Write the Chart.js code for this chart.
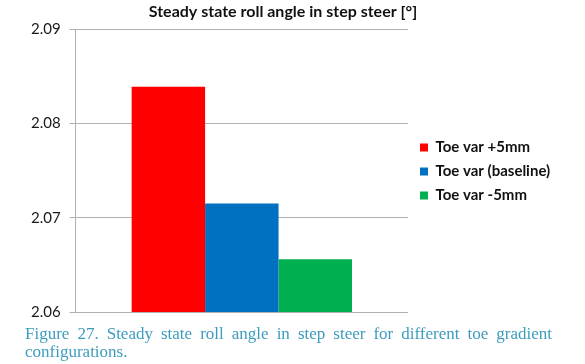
<!DOCTYPE html>
<html>
<head>
<meta charset="utf-8">
<script src="https://cdn.jsdelivr.net/npm/chart.js@4"></script>
<style>
  body { margin: 0; background: #fff; width: 585px; height: 364px; overflow: hidden; position: relative; }
  #wrap { position: absolute; left: 0; top: 0; width: 585px; height: 330px; }
  #caption {
    position: absolute;
    left: 25px;
    top: 325px;
    width: 527px;
    margin: 0;
    font-family: "Liberation Serif", serif;
    font-size: 17px;
    line-height: 18px;
    color: #3d9cbe;
    text-align: justify;
  }
</style>
</head>
<body>
<div id="wrap"><canvas id="chart"></canvas></div>
<p id="caption">Figure 27. Steady state roll angle in step steer for different toe gradient configurations.</p>
<script>
// data
const categories = [""];
const seriesNames = ["Toe var +5mm", "Toe var (baseline)", "Toe var -5mm"];
const seriesValues = [[2.0839], [2.0715], [2.0656]];
const seriesColors = ["#ff0000", "#0070c0", "#00b050"];
const yTicks = [2.06, 2.07, 2.08, 2.09];

const datasets = [];
for (let i = 0; i < seriesNames.length; i++) {
  datasets.push({
    label: seriesNames[i],
    data: seriesValues[i],
    backgroundColor: seriesColors[i],
    borderWidth: 0,
    barPercentage: 1,
    categoryPercentage: 0.663
  });
}

Chart.defaults.font.family = "Lato, 'Liberation Sans', sans-serif";

// legend sits in a fixed-width column on the right, like the Excel original
const legendColumn = {
  id: "legendColumn",
  beforeLayout(chart) {
    const lg = chart.legend;
    if (lg && !lg._wrapped) {
      const fit = lg.fit;
      lg.fit = function() {
        fit.call(this);
        this.width = 177;
      };
      lg._wrapped = true;
    }
  },
  afterLayout(chart) {
    const lg = chart.legend;
    lg.left += 3; lg.right += 3;
    lg.top += 6; lg.bottom += 6;
    const t = chart.titleBlock;
    const shift = 283 - (t.left + t.right) / 2;
    t.left += shift; t.right += shift;
  }
};

new Chart(document.getElementById("chart"), {
  type: "bar",
  data: { labels: categories, datasets: datasets },
  plugins: [legendColumn],
  options: {
    responsive: true,
    maintainAspectRatio: false,
    animation: false,
    layout: { padding: { left: 22, right: 0, top: 1, bottom: 0 } },
    scales: {
      x: { display: false },
      y: {
        min: yTicks[0],
        max: yTicks[yTicks.length - 1],
        afterBuildTicks: function(axis) {
          axis.ticks = yTicks.map(v => ({ value: v }));
        },
        ticks: {
          color: "#1a1a1a",
          font: { size: 15 },
          padding: 9,
          callback: v => v.toFixed(2)
        },
        grid: { color: "#b0b0b0", tickLength: 6 },
        border: { color: "#b0b0b0" }
      }
    },
    plugins: {
      title: {
        display: true,
        text: "Steady state roll angle in step steer [°]",
        color: "#111",
        font: { size: 16, weight: "bold" },
        padding: { top: 1, bottom: 8 }
      },
      legend: {
        position: "right",
        labels: {
          color: "#111",
          boxWidth: 8,
          boxHeight: 8,
          padding: 9,
          font: { size: 15, weight: "bold" }
        }
      },
      tooltip: { enabled: false }
    }
  }
});
</script>
</body>
</html>
